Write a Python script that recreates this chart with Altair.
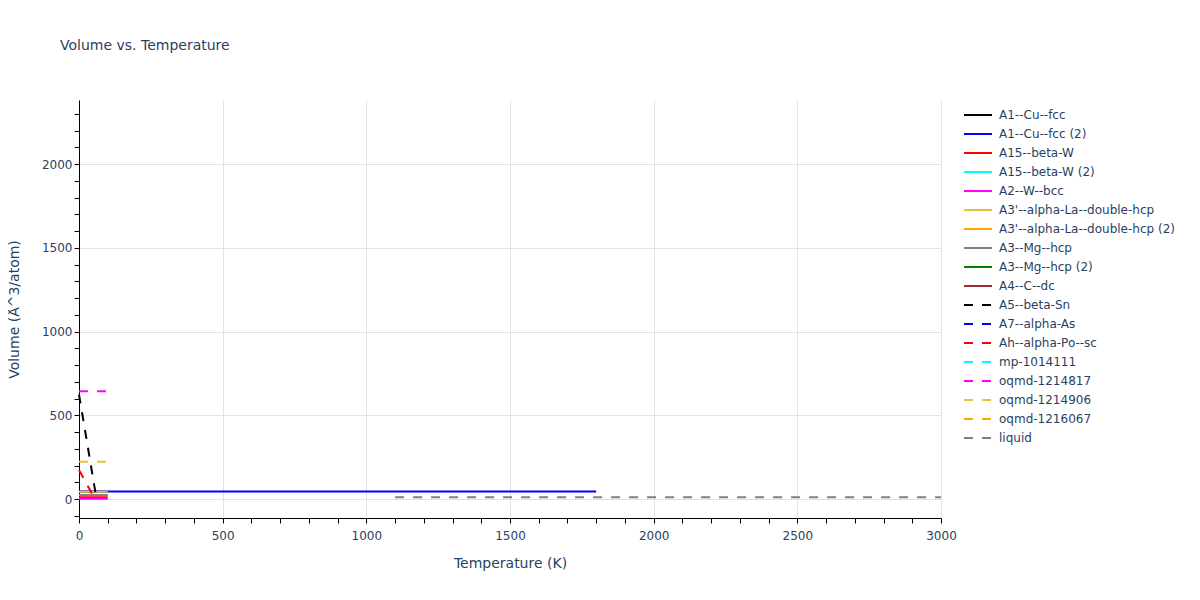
import altair as alt
import pandas as pd

# ---- series definitions (legend order) ----
series_names = [
    "A1--Cu--fcc", "A1--Cu--fcc (2)", "A15--beta-W", "A15--beta-W (2)",
    "A2--W--bcc", "A3'--alpha-La--double-hcp", "A3'--alpha-La--double-hcp (2)",
    "A3--Mg--hcp", "A3--Mg--hcp (2)", "A4--C--dc", "A5--beta-Sn",
    "A7--alpha-As", "Ah--alpha-Po--sc", "mp-1014111", "oqmd-1214817",
    "oqmd-1214906", "oqmd-1216067", "liquid",
]
series_colors = [
    "#000000", "#0000ff", "#ff0000", "#00ffff", "#ff00ff", "#e8c33a", "#ffa500",
    "#808080", "#008000", "#a52a2a", "#000000", "#0000ff", "#ff0000", "#00ffff",
    "#ff00ff", "#e8c33a", "#ffa500", "#808080",
]
series_dashed = [
    False, False, False, False, False, False, False, False, False, False,
    True, True, True, True, True, True, True, True,
]

# ---- values (temperature K, volume A^3/atom) ----
temps = {
    "A1--Cu--fcc": [0, 100],
    "A1--Cu--fcc (2)": [0, 1800],
    "A15--beta-W": [0, 100],
    "A15--beta-W (2)": [0, 100],
    "A2--W--bcc": [0, 100],
    "A3'--alpha-La--double-hcp": [0, 100],
    "A3'--alpha-La--double-hcp (2)": [0, 100],
    "A3--Mg--hcp": [0, 100],
    "A3--Mg--hcp (2)": [0],
    "A4--C--dc": [0],
    "A5--beta-Sn": [0, 60],
    "A7--alpha-As": [0],
    "Ah--alpha-Po--sc": [0, 50],
    "mp-1014111": [0],
    "oqmd-1214817": [0, 100],
    "oqmd-1214906": [0, 100],
    "oqmd-1216067": [0],
    "liquid": [1100, 3000],
}
volumes = {
    "A1--Cu--fcc": [45, 45],
    "A1--Cu--fcc (2)": [46, 46],
    "A15--beta-W": [12, 12],
    "A15--beta-W (2)": [25, 25],
    "A2--W--bcc": [3, 3],
    "A3'--alpha-La--double-hcp": [45, 45],
    "A3'--alpha-La--double-hcp (2)": [25, 25],
    "A3--Mg--hcp": [25, 25],
    "A3--Mg--hcp (2)": [25],
    "A4--C--dc": [25],
    "A5--beta-Sn": [625, 12],
    "A7--alpha-As": [45],
    "Ah--alpha-Po--sc": [175, 18],
    "mp-1014111": [25],
    "oqmd-1214817": [645, 645],
    "oqmd-1214906": [223, 223],
    "oqmd-1216067": [45],
    "liquid": [12, 12],
}

x_ticks = list(range(0, 3001, 100))
y_ticks = list(range(-100, 2301, 100))

rows = []
for i, name in enumerate(series_names):
    for t, v in zip(temps[name], volumes[name]):
        rows.append({"series": name, "T": t, "V": v, "idx": i})
df = pd.DataFrame(rows)

TEXT = "#2a3f5f"
FONT = "DejaVu Sans"

color_scale = alt.Scale(domain=series_names, range=series_colors)
dash_scale = alt.Scale(domain=series_names,
                       range=[[9, 9] if d else [1, 0] for d in series_dashed])

legend = alt.Legend(
    title=None, orient="none", legendX=889, legendY=5,
    symbolType="M-1.556,0H1.556", symbolSize=324, symbolStrokeWidth=2,
    labelFont=FONT, labelFontSize=12, labelColor=TEXT, labelLimit=400,
    labelOffset=11, rowPadding=3, padding=0,
)

grid_cond = {"condition": {"test": "datum.value % 500 === 0", "value": 1}, "value": 0}

x_enc = alt.X(
    "T:Q",
    scale=alt.Scale(domain=[0, 3000], nice=False, zero=False),
    axis=alt.Axis(
        title="Temperature (K)", values=x_ticks, format="d",
        labelExpr="datum.value % 500 === 0 ? datum.label : ''",
        gridColor="#e2e2e2", gridOpacity=grid_cond,
        domainColor="#000000", tickColor="#000000", tickSize=5,
        labelFont=FONT, labelFontSize=12, labelColor=TEXT, labelPadding=7,
        labelFlush=False, labelOverlap=False,
        titleFont=FONT, titleFontSize=14, titleColor=TEXT,
        titleFontWeight="normal", titlePadding=15,
    ),
)
y_enc = alt.Y(
    "V:Q",
    scale=alt.Scale(domain=[-112, 2382], nice=False, zero=False),
    axis=alt.Axis(
        title="Volume (Å^3/atom)", values=y_ticks, format="d",
        labelExpr="datum.value % 500 === 0 ? datum.label : ''",
        gridColor="#e2e2e2", gridOpacity=grid_cond,
        domainColor="#000000", tickColor="#000000", tickSize=5,
        labelFont=FONT, labelFontSize=12, labelColor=TEXT, labelPadding=2,
        labelFlush=False, labelOverlap=False,
        titleFont=FONT, titleFontSize=14, titleColor=TEXT,
        titleFontWeight="normal", titlePadding=20,
    ),
)

chart = alt.Chart(df).mark_line(strokeWidth=2, strokeCap="butt").encode(
    x=x_enc,
    y=y_enc,
    color=alt.Color("series:N", scale=color_scale, legend=legend),
    strokeDash=alt.StrokeDash("series:N", scale=dash_scale, legend=legend),
    order=alt.Order("T:Q"),
).properties(
    width=862, height=418,
    title=alt.TitleParams(
        "Volume vs. Temperature", anchor="start", frame="group", dx=-19,
        offset=47, font=FONT, fontSize=14, fontWeight="normal", color=TEXT,
    ),
    autosize=alt.AutoSizeParams(type="none"),
    padding={"left": 71, "top": 92, "right": 251, "bottom": 60},
).configure_view(strokeWidth=0)

chart.save("out.html", embed_options={"renderer": "svg", "actions": False})
